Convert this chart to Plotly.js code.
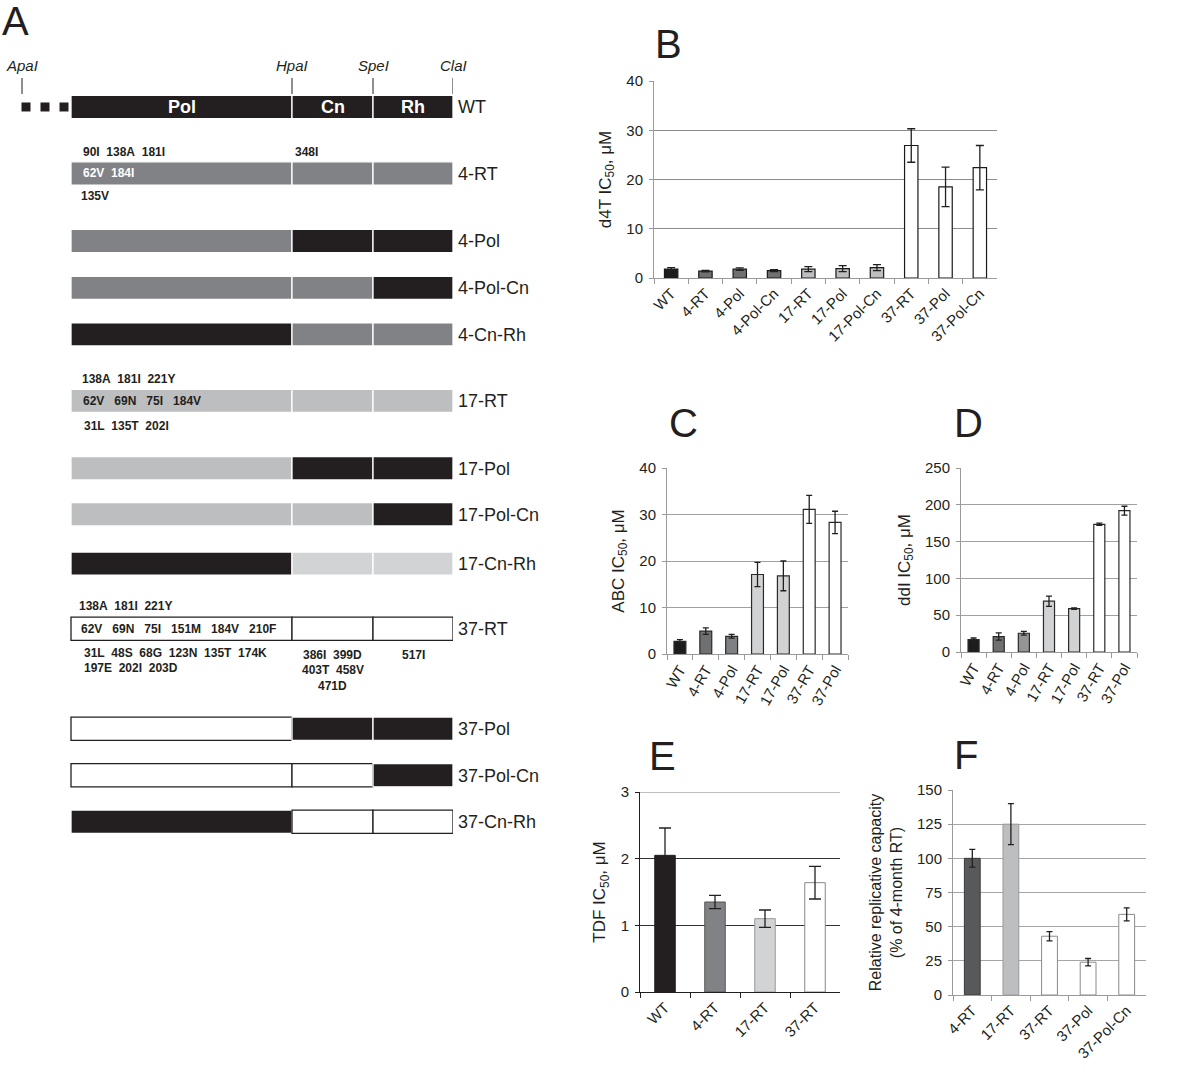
<!DOCTYPE html>
<html><head><meta charset="utf-8">
<script src="https://cdn.plot.ly/plotly-3.0.1.min.js"></script>
<style>html,body{margin:0;padding:0;background:#fff}#chart{width:1200px;height:1072px}</style>
</head><body><div id="chart"></div>
<script>
// ================= DATA =================
// Panel A: chimeric constructs and the origin of each RT domain
const constructs = ['WT','4-RT','4-Pol','4-Pol-Cn','4-Cn-Rh','17-RT','17-Pol','17-Pol-Cn','17-Cn-Rh','37-RT','37-Pol','37-Pol-Cn','37-Cn-Rh'];
const domainNames = ['Pol','Cn','Rh'];
const polSource = ['WT','4','4','4','WT','17','17','17','WT','37','37','37','WT'];
const cnSource  = ['WT','4','WT','4','4','17','WT','17','17b','37','WT','37','37'];
const rhSource  = ['WT','4','WT','WT','4','17','WT','WT','17b','37','WT','WT','37'];
const siteNames = ['ApaI','HpaI','SpeI','ClaI'];
const siteMapPos = [-49, 221, 302, 382];   // relative map position (Pol starts at 0)

const mut4_polAbove   = ['90I','138A','181I'];
const mut4_polInside  = ['62V','184I'];
const mut4_polBelow   = ['135V'];
const mut4_cnAbove    = ['348I'];
const mut17_polAbove  = ['138A','181I','221Y'];
const mut17_polInside = ['62V','69N','75I','184V'];
const mut17_polBelow  = ['31L','135T','202I'];
const mut37_polAbove  = ['138A','181I','221Y'];
const mut37_polInside = ['62V','69N','75I','151M','184V','210F'];
const mut37_polBelow1 = ['31L','48S','68G','123N','135T','174K'];
const mut37_polBelow2 = ['197E','202I','203D'];
const mut37_cnBelow1  = ['386I','399D'];
const mut37_cnBelow2  = ['403T','458V'];
const mut37_cnBelow3  = ['471D'];
const mut37_rhBelow   = ['517I'];

// Panel B: d4T IC50 (uM)
const bCats = ['WT','4-RT','4-Pol','4-Pol-Cn','17-RT','17-Pol','17-Pol-Cn','37-RT','37-Pol','37-Pol-Cn'];
const bVals = [1.8, 1.4, 1.8, 1.5, 1.8, 1.9, 2.1, 26.9, 18.5, 22.4];
const bErrs = [0.3, 0.15, 0.25, 0.2, 0.5, 0.6, 0.6, 3.4, 4.0, 4.5];
// Panel C: ABC IC50 (uM)
const cCats = ['WT','4-RT','4-Pol','17-RT','17-Pol','37-RT','37-Pol'];
const cVals = [2.7, 4.9, 3.8, 17.1, 16.8, 31.1, 28.3];
const cErrs = [0.4, 0.7, 0.4, 2.6, 3.2, 3.0, 2.4];
// Panel D: ddI IC50 (uM)
const dCats = ['WT','4-RT','4-Pol','17-RT','17-Pol','37-RT','37-Pol'];
const dVals = [17, 21, 25.5, 69, 59, 173.5, 192];
const dErrs = [2, 5, 2.5, 7, 1, 1.5, 6];
// Panel E: TDF IC50 (uM)
const eCats = ['WT','4-RT','17-RT','37-RT'];
const eVals = [2.05, 1.35, 1.1, 1.64];
const eErrs = [0.41, 0.1, 0.13, 0.245];
// Panel F: relative replicative capacity (% of 4-month RT)
const fCats = ['4-RT','17-RT','37-RT','37-Pol','37-Pol-Cn'];
const fVals = [100, 125, 43, 24, 59];
const fErrs = [6.5, 15, 3.4, 2.7, 4.7];

// ================= LAYOUT HELPERS =================
const W = 1200, H = 1072;
const FONT = 'Liberation Sans, Arial, Helvetica, sans-serif';
const fx = p => p / W;
const fy = p => 1 - p / H;
const dom = (a, b) => [fx(a), fx(b)];
const domY = (top, bot) => [fy(bot), fy(top)];

// vertical slot of each construct row in panel A (layout)
const ROW_Y = [0, 1.43, 2.88, 3.89, 4.89, 6.32, 7.77, 8.76, 9.82, 11.22, 13.37, 14.37, 15.37];

const srcFill = {WT:'#231f20', '4':'#808285', '17':'#bcbec0', '17b':'#d1d3d4', '37':'#ffffff'};
const srcLine = {WT:'#ffffff', '4':'#ffffff', '17':'#ffffff', '17b':'#ffffff', '37':'#231f20'};

const traces = [];
const annotations = [];
const shapes = [];

// ---- Panel A bars ----
const sources = [polSource, cnSource, rhSource];
const segStart = [0, siteMapPos[1], siteMapPos[2]];
const segEnd = [siteMapPos[1], siteMapPos[2], siteMapPos[3]];
for (let d = 0; d < 3; d++) {
  traces.push({
    type:'bar', orientation:'h', xaxis:'x', yaxis:'y',
    y: ROW_Y, x: constructs.map(() => segEnd[d] - segStart[d]),
    base: constructs.map(() => segStart[d]),
    width: 0.5,
    marker:{color: sources[d].map(s => srcFill[s]), line:{color: sources[d].map(s => srcLine[s]), width:1.3}},
    hoverinfo:'skip', showlegend:false, name: domainNames[d]
  });
}
// upstream dots (gag region, truncated)
traces.push({
  type:'scatter', mode:'markers', xaxis:'x', yaxis:'y',
  x:[0,1,2].map(k => siteMapPos[0] + 4 + k * 19), y:[ROW_Y[0], ROW_Y[0], ROW_Y[0]],
  marker:{symbol:'square', size:9, color:'#231f20'}, hoverinfo:'skip', showlegend:false, cliponaxis:false
});
// domain labels on WT bar
for (let d = 0; d < 3; d++) {
  annotations.push({xref:'x', yref:'y', x:(segStart[d]+segEnd[d])/2, y:ROW_Y[0], text:'<b>'+domainNames[d]+'</b>',
    showarrow:false, font:{family:FONT, size:18, color:'#ffffff'}, xanchor:'center', yanchor:'middle'});
}
// restriction sites
siteNames.forEach((s, i) => {
  shapes.push({type:'line', xref:'x', yref:'y', x0:siteMapPos[i], x1:siteMapPos[i], ysizemode:'pixel', yanchor:ROW_Y[0],
    y0:13, y1:29, line:{color:'#231f20', width:1}});
  annotations.push({xref:'x', yref:'y', x:siteMapPos[i], y:ROW_Y[0], yshift:41, text:'<i>'+s+'</i>', showarrow:false,
    font:{family:FONT, size:15, color:'#231f20'}, xanchor:'center', yanchor:'middle'});
});
// mutation labels
const NB2 = '\u00a0\u00a0', NB3 = '\u00a0\u00a0\u00a0';
function mut(list, rowIdx, x, yshift, color, sep, anchor, xshift) {
  annotations.push({xref:'x', yref:'y', x:x, y:ROW_Y[rowIdx], xshift: xshift || 0, yshift:yshift,
    text:'<b>'+list.join(sep)+'</b>', showarrow:false, xanchor: anchor || 'left', yanchor:'middle',
    font:{family:FONT, size:12, color:color}});
}
const r4 = constructs.indexOf('4-RT'), r17 = constructs.indexOf('17-RT'), r37 = constructs.indexOf('37-RT');
const cnMid = (segStart[1]+segEnd[1])/2, rhMid = (segStart[2]+segEnd[2])/2;
mut(mut4_polAbove, r4, 0, 21, '#231f20', NB2, 'left', 10);
mut(mut4_polInside, r4, 0, 0, '#ffffff', NB2, 'left', 10);
mut(mut4_polBelow, r4, 0, -23, '#231f20', NB2, 'left', 8);
mut(mut4_cnAbove, r4, segStart[1], 21, '#231f20', NB2, 'left', 1);
mut(mut17_polAbove, r17, 0, 22, '#231f20', NB2, 'left', 9);
mut(mut17_polInside, r17, 0, 0, '#231f20', NB3, 'left', 10);
mut(mut17_polBelow, r17, 0, -25, '#231f20', NB2, 'left', 11);
mut(mut37_polAbove, r37, 0, 23, '#231f20', NB2, 'left', 6);
mut(mut37_polInside, r37, 0, 0, '#231f20', NB3, 'left', 8);
mut(mut37_polBelow1, r37, 0, -24, '#231f20', NB2, 'left', 11);
mut(mut37_polBelow2, r37, 0, -39, '#231f20', NB2, 'left', 11);
mut(mut37_cnBelow1, r37, cnMid, -26, '#231f20', NB2, 'center');
mut(mut37_cnBelow2, r37, cnMid, -41, '#231f20', NB2, 'center');
mut(mut37_cnBelow3, r37, cnMid, -57, '#231f20', NB2, 'center');
mut(mut37_rhBelow, r37, rhMid, -26, '#231f20', NB2, 'center');

// ---- bar panels ----
function groupOf(c){ return c.split('-')[0]; }
function addBars(ax, cats, vals, errs, fills, lines, lw, width, capw) {
  traces.push({
    type:'bar', xaxis:'x'+ax, yaxis:'y'+ax, x:cats, y:vals, width:width,
    marker:{color: cats.map(fills), line:{color: cats.map(lines), width: lw}},
    error_y:{type:'data', array:errs, visible:true, color:'#231f20', thickness:1.3, width:capw},
    hoverinfo:'skip', showlegend:false
  });
}
addBars(2, bCats, bVals, bErrs,
  c => ({WT:'#1c1c1c','4':'#6f7072','17':'#bdbec0','37':'#ffffff'})[groupOf(c)], c => '#1a1a1a', 1.2, 0.39, 4);
addBars(3, cCats, cVals, cErrs,
  c => ({'WT':'#1c1c1c','4-RT':'#6f7072','4-Pol':'#7f8083','17-RT':'#d0d2d3','17-Pol':'#d0d2d3','37-RT':'#ffffff','37-Pol':'#ffffff'})[c], c => '#2a2a2a', 1.2, 0.46, 3);
addBars(4, dCats, dVals, dErrs,
  c => ({'WT':'#1c1c1c','4-RT':'#6f7072','4-Pol':'#949597','17-RT':'#d0d2d3','17-Pol':'#d0d2d3','37-RT':'#ffffff','37-Pol':'#ffffff'})[c], c => '#2a2a2a', 1.2, 0.44, 3);
addBars(5, eCats, eVals, eErrs,
  c => ({WT:'#231f20','4':'#808285','17':'#d1d3d4','37':'#ffffff'})[groupOf(c)],
  c => ({WT:'#231f20','4':'#555555','17':'#999999','37':'#888888'})[groupOf(c)], 1, 0.41, 6);
addBars(6, fCats, fVals, fErrs,
  c => ({'4-RT':'#58595b','17-RT':'#bcbec0'})[c] || '#ffffff',
  c => ({'4-RT':'#3a3a3a','17-RT':'#9a9a9a'})[c] || '#8a8a8a', 1, 0.41, 3);

function xCat(domain, anchor, angle, size, lineColor) {
  return {domain:domain, anchor:anchor, type:'category', showline:true, linecolor:lineColor, linewidth:1,
    ticks:'outside', tickson:'boundaries', ticklen:5, tickcolor:lineColor, tickwidth:1,
    tickangle:angle, tickfont:{family:FONT, size:size, color:'#231f20'}, showgrid:false, zeroline:false, fixedrange:true};
}
function yNum(domain, anchor, range, dtick, title, gridColor, lineColor, tsize) {
  return {domain:domain, anchor:anchor, range:range, dtick:dtick, tick0:0, showline:true, linecolor:lineColor, linewidth:1,
    ticks:'outside', ticklen:4, tickcolor:lineColor, showgrid:true, gridcolor:gridColor, gridwidth:1, zeroline:false,
    tickfont:{family:FONT, size:15, color:'#231f20'}, ticklabelstandoff:3,
    title:{text:title, font:{family:FONT, size:tsize || 17, color:'#231f20'}, standoff:10}, fixedrange:true};
}

// panel letters
[['A',15,21],['B',668,44],['C',683,423],['D',968,423],['E',662,756],['F',966,755]].forEach(([t,x,y]) => {
  annotations.push({xref:'paper', yref:'paper', x:fx(x), y:fy(y), text:t, showarrow:false,
    font:{family:FONT, size:40, color:'#231f20'}, xanchor:'center', yanchor:'middle'});
});

const yE = yNum(domY(792,992), 'x5', [0,3], 1, 'TDF IC<sub>50</sub>, μM', '#333333', '#231f20');
// top gridline of panel E is drawn lighter in the original
shapes.push({type:'line', xref:'x5 domain', yref:'y5', x0:0, x1:1, y0:yE.range[1], y1:yE.range[1],
  line:{color:'#a8a8a8', width:1.5}, layer:'above'});

const layout = {
  width:W, height:H, margin:{l:0,r:0,t:0,b:0}, paper_bgcolor:'#ffffff', plot_bgcolor:'rgba(0,0,0,0)',
  showlegend:false, hovermode:false, font:{family:FONT, color:'#231f20'}, barmode:'overlay', bargap:0,
  xaxis:{domain:dom(0,453), anchor:'y', range:[-71, 382], visible:false, fixedrange:true},
  yaxis:{domain:domY(55,845), anchor:'x', range:[15.871, -1.118], side:'right', tickmode:'array', tickvals:ROW_Y,
    ticktext:constructs, ticks:'', showgrid:false, zeroline:false, showline:false, ticklabelstandoff:4,
    tickfont:{family:FONT, size:18, color:'#231f20'}, fixedrange:true},
  xaxis2: xCat(dom(654,997), 'y2', -45, 15, '#9a9a9a'),
  yaxis2: yNum(domY(81,278), 'x2', [0,40], 10, 'd4T IC<sub>50</sub>, μM', '#8c8c8c', '#9a9a9a'),
  xaxis3: xCat(dom(667,848), 'y3', -60, 15, '#9a9a9a'),
  yaxis3: yNum(domY(468,654), 'x3', [0,40], 10, 'ABC IC<sub>50</sub>, μM', '#a0a0a0', '#9a9a9a'),
  xaxis4: xCat(dom(961,1137), 'y4', -60, 15, '#9a9a9a'),
  yaxis4: yNum(domY(468,652), 'x4', [0,250], 50, 'ddI IC<sub>50</sub>, μM', '#a0a0a0', '#9a9a9a'),
  xaxis5: xCat(dom(640,840), 'y5', -45, 15, '#231f20'),
  yaxis5: yE,
  xaxis6: xCat(dom(953,1146), 'y6', -45, 15, '#9a9a9a'),
  yaxis6: yNum(domY(790,995), 'x6', [0,150], 25, 'Relative replicative capacity<br>(% of 4-month RT)', '#a6a6a6', '#9a9a9a', 16),
  annotations: annotations, shapes: shapes
};

Plotly.newPlot('chart', traces, layout, {staticPlot:true, displayModeBar:false});
</script></body></html>
